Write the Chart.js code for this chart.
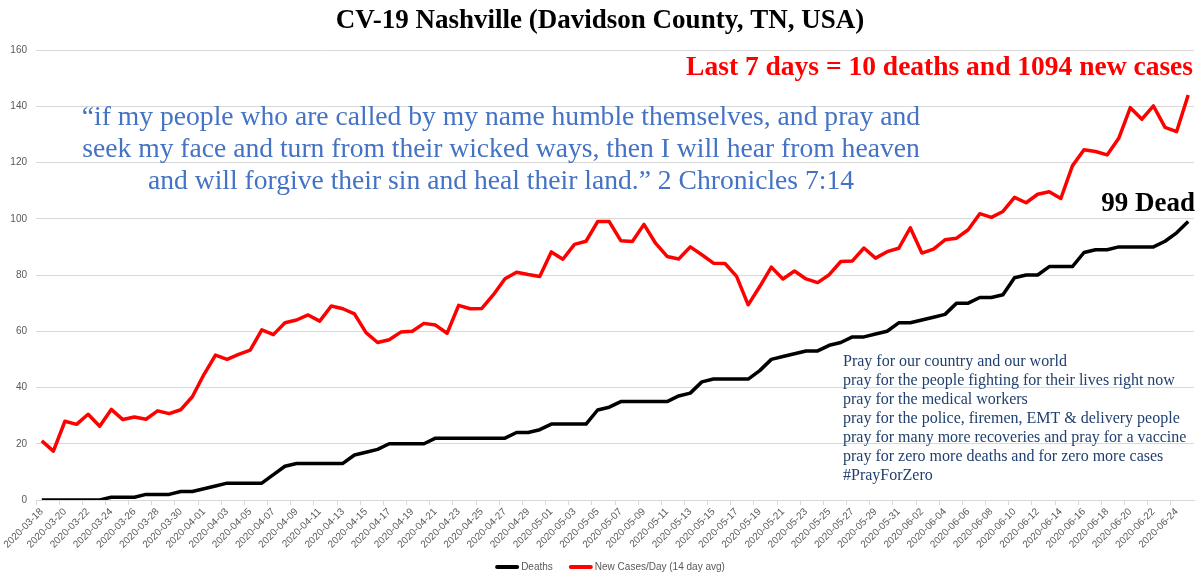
<!DOCTYPE html>
<html>
<head>
<meta charset="utf-8">
<script src="https://cdn.jsdelivr.net/npm/chart.js@4.4.0/dist/chart.umd.min.js"></script>
<style>
  html, body { margin:0; padding:0; background:#fff; }
  canvas { display:block; }
</style>
</head>
<body>
<canvas id="chart" width="1200" height="576"></canvas>
<script>
// --- Data ---
const deaths = [
  0,0,0,0,0,0,1,1,1,2, 2,2,3,3,4,5,6,6,6,6,
  9,12,13,13,13,13,13,16,17,18, 20,20,20,20,22,22,22,22,22,22,
  22,24,24,25,27,27,27,27,32,33, 35,35,35,35,35,37,38,42,43,43,
  43,43,46,50,51,52,53,53,55,56, 58,58,59,60,63,63,64,65,66,70,
  70,72,72,73,79,80,80,83,83,83, 88,89,89,90,90,90,90,92,95,99
];
const newCases = [
  21,17.4,28,26.9,30.5,26.2,32.2,28.6,29.5,28.7,
  31.7,30.7,32.1,36.7,44.6,51.5,50,51.8,53.3,60.5,
  58.8,63,64,65.8,63.6,69,68,66.2,59.5,56,
  57,59.7,60,62.8,62.2,59.3,69.2,68,68.1,73,
  78.7,81,80.2,79.5,88.2,85.6,90.9,92,99,99,
  92.2,91.9,98,91.3,86.6,85.7,90,87.2,84.2,84.1,
  79.5,69.4,75.9,82.8,78.6,81.4,78.6,77.3,80.1,84.8,
  85,89.6,86,88.3,89.5,96.8,87.8,89.2,92.5,93.1,
  96.1,101.8,100.5,102.6,107.6,105.7,108.7,109.6,107.2,118.8,
  124.5,123.9,122.7,128.6,139.5,135.4,140.1,132.5,131,144
];
const seriesNames = ['Deaths', 'New Cases/Day (14 day avg)'];
const seriesColors = ['#000000', '#ff0000'];
const yTicks = [0,20,40,60,80,100,120,140,160];

// categories: one per day from 2020-03-18
const days = [];
const start = Date.UTC(2020, 2, 18);
for (let i = 0; i < deaths.length; i++) days.push(new Date(start + i*864e5).toISOString().slice(0,10));

const TITLE = 'CV-19 Nashville (Davidson County, TN, USA)';
const HEADLINE = 'Last 7 days = 10 deaths and 1094 new cases';
const QUOTE = [
  '\u201Cif my people who are called by my name humble themselves, and pray and',
  'seek my face and turn from their wicked ways, then I will hear from heaven',
  'and will forgive their sin and heal their land.\u201D 2 Chronicles 7:14'
];
const PRAYERS = [
  'Pray for our country and our world',
  'pray for the people fighting for their lives right now',
  'pray for the medical workers',
  'pray for the police, firemen, EMT & delivery people',
  'pray for many more recoveries and pray for a vaccine',
  'pray for zero more deaths and for zero more cases',
  '#PrayForZero'
];

const SERIF = '"Liberation Serif", "Times New Roman", serif';
const SANS = '"Liberation Sans", Arial, sans-serif';

// --- Texts + legend drawn on top ---
const notes = {
  id: 'notes',
  afterDraw(chart){
    const ctx = chart.ctx;
    const y = chart.scales.y;
    ctx.save();
    ctx.textBaseline = 'middle';

    ctx.fillStyle = '#000';
    ctx.font = 'bold 27px ' + SERIF;
    ctx.textAlign = 'center';
    ctx.fillText(TITLE, 600, 21);

    ctx.fillStyle = '#ff0000';
    ctx.textAlign = 'right';
    ctx.font = 'bold 27.5px ' + SERIF;
    ctx.fillText(HEADLINE, 1193, 68);

    ctx.fillStyle = '#000';
    ctx.font = 'bold 27px ' + SERIF;
    ctx.fillText('99 Dead', 1195, y.getPixelForValue(deaths[deaths.length-1]) - 18);

    ctx.fillStyle = '#4472c4';
    ctx.font = '27.6px ' + SERIF;
    ctx.textAlign = 'center';
    QUOTE.forEach((t,i)=> ctx.fillText(t, 501, 118 + i*32));

    ctx.fillStyle = '#1f3f6e';
    ctx.font = '16px ' + SERIF;
    ctx.textAlign = 'left';
    PRAYERS.forEach((t,i)=> ctx.fillText(t, 843, 362 + i*18.9));

    // legend
    ctx.font = '10px ' + SANS;
    const items = chart.data.datasets.map(d => ({ label:d.label, color:d.borderColor, w: 24 + 2 + ctx.measureText(d.label).width }));
    const gap = 16;
    const total = items.reduce((s,it)=> s + it.w, 0) + gap*(items.length-1);
    let x = 610 - total/2;
    const ly = 567;
    items.forEach(it => {
      ctx.strokeStyle = it.color; ctx.lineWidth = 4; ctx.lineCap = 'round';
      ctx.beginPath(); ctx.moveTo(x+2, ly); ctx.lineTo(x+22, ly); ctx.stroke();
      ctx.fillStyle = '#595959';
      ctx.fillText(it.label, x + 26, ly);
      x += it.w + gap;
    });
    ctx.restore();
  }
};

new Chart(document.getElementById('chart'), {
  type: 'line',
  data: {
    labels: days,
    datasets: [
      { label: seriesNames[0], data: deaths, borderColor: seriesColors[0], backgroundColor: seriesColors[0],
        borderWidth: 3.5, pointRadius: 0, tension: 0, borderJoinStyle: 'round' },
      { label: seriesNames[1], data: newCases, borderColor: seriesColors[1], backgroundColor: seriesColors[1],
        borderWidth: 3.5, pointRadius: 0, tension: 0, borderJoinStyle: 'round' }
    ]
  },
  options: {
    responsive: false,
    animation: false,
    devicePixelRatio: 1,
    layout: { padding: { top: 50, right: 6, bottom: 0, left: 0 } },
    plugins: { legend: { display: false }, tooltip: { enabled: false } },
    scales: {
      x: {
        offset: true,
        afterFit: (s) => { s.height = 76; },
        grid: {
          offset: true, drawOnChartArea: false, drawTicks: true, tickLength: 5,
          color: (c) => c.index % 2 === 0 ? '#d9d9d9' : 'rgba(0,0,0,0)'
        },
        border: { display: true, color: '#d9d9d9' },
        ticks: {
          autoSkip: false, minRotation: 45, maxRotation: 45, padding: 1,
          color: '#595959', font: { family: SANS, size: 10 },
          callback: function(v, i){ return i % 2 === 0 ? this.getLabelForValue(v) : ''; }
        }
      },
      y: {
        min: yTicks[0], max: yTicks[yTicks.length-1],
        afterFit: (s) => { s.width = 36; },
        afterBuildTicks: (s) => { s.ticks = yTicks.map(v => ({ value: v })); },
        grid: { color: '#d9d9d9', lineWidth: 1, drawTicks: false },
        border: { display: false },
        ticks: { padding: 9, color: '#595959', font: { family: SANS, size: 10 } }
      }
    }
  },
  plugins: [notes]
});
</script>
</body>
</html>
